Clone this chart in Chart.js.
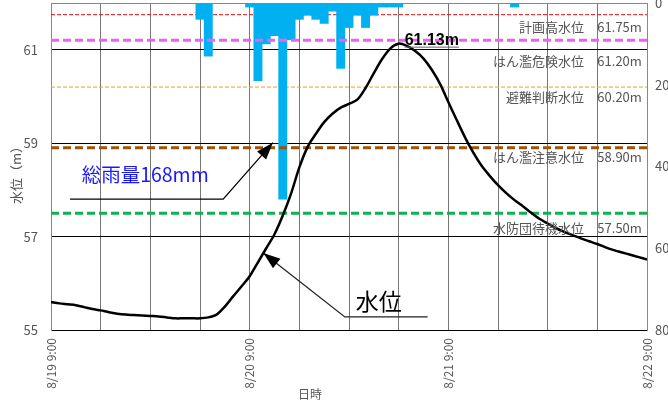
<!DOCTYPE html>
<html>
<head>
<meta charset="utf-8">
<script src="https://cdn.jsdelivr.net/npm/chart.js@4"></script>
<style>
  html, body { margin: 0; padding: 0; background: #fff; }
  #wrap { width: 668px; height: 401px; }
</style>
</head>
<body>
<div id="wrap"><canvas id="chart"></canvas></div>
<script>
// Hours since 8/19 9:00 (0 .. 72)
const dayLabels = ['8/19 9:00', '8/20 9:00', '8/21 9:00', '8/22 9:00'];

// Hourly rain (mm)
const rain = [
  0, 0, 0, 0, 0, 0, 0, 0, 0, 0, 0, 0,
  0, 0, 0, 0, 0, 0, 4, 13, 0, 0, 0, 0,
  1, 19, 10, 8, 48, 9, 4, 3, 4, 5, 2, 16,
  6, 3, 6, 3, 1, 1, 1, 0, 0, 0, 0, 0,
  0, 0, 0, 0, 0, 0, 0, 0, 1, 0, 0, 0,
  0, 0, 0, 0, 0, 0, 0, 0, 0, 0, 0, 0,
  0
];

// Hourly water level (m)
const waterLevel = [
  55.60, 55.57, 55.55, 55.53, 55.49, 55.45, 55.42, 55.38, 55.35, 55.33, 55.32, 55.31,
  55.30, 55.29, 55.27, 55.25, 55.25, 55.25, 55.25, 55.27, 55.33, 55.50, 55.72, 55.93,
  56.15, 56.45, 56.75, 57.05, 57.45, 57.92, 58.48, 58.92, 59.20, 59.45, 59.63, 59.76,
  59.84, 59.93, 60.18, 60.50, 60.80, 61.03, 61.13, 61.08, 60.97, 60.81, 60.57, 60.27,
  59.88, 59.50, 59.13, 58.80, 58.52, 58.30, 58.10, 57.93, 57.78, 57.65, 57.51, 57.38,
  57.28, 57.18, 57.10, 57.03, 56.96, 56.90, 56.84, 56.77, 56.71, 56.66, 56.61, 56.56,
  56.51
];

// Reference water levels
const levelNames = ['計画高水位', 'はん濫危険水位', '避難判断水位', 'はん濫注意水位', '水防団待機水位'];
const levelValues = [61.75, 61.20, 60.20, 58.90, 57.50];

const levelTicks = [55, 57, 59, 61, 62];
const rainTicks = [0, 20, 40, 60, 80];
const totalRain = '総雨量168mm';

// styles for each reference line
const levelStyles = [
  { color: '#e01010', width: 1, dash: [4, 2], order: 3 },
  { color: '#f060f0', width: 3, dash: [8, 4], order: 1 },
  { color: '#f0a020', width: 1, dash: [4, 2], order: 3 },
  { color: '#a0520a', width: 3, dash: [8, 4], order: 1 },
  { color: '#10b050', width: 3, dash: [8, 4], order: 1 }
];
// label rows (in metres) for the reference line names
const levelLabelAt = [61.49, 60.76, 59.99, 58.70, 57.19];

Chart.defaults.font.family = '"Noto Sans CJK JP", sans-serif';
Chart.defaults.color = '#555';

const hours = waterLevel.map((v, i) => i);

const levelSets = levelValues.map((v, i) => ({
  type: 'line',
  data: [{ x: 0, y: v }, { x: 72, y: v }],
  yAxisID: 'y',
  borderColor: levelStyles[i].color,
  borderWidth: levelStyles[i].width,
  borderDash: levelStyles[i].dash,
  pointRadius: 0,
  order: levelStyles[i].order
}));

function arrow(ctx, pts) {
  ctx.beginPath();
  ctx.moveTo(pts[0][0], pts[0][1]);
  for (let i = 1; i < pts.length; i++) ctx.lineTo(pts[i][0], pts[i][1]);
  ctx.stroke();
  const [ax, ay] = pts[pts.length - 2];
  const [bx, by] = pts[pts.length - 1];
  const a = Math.atan2(by - ay, bx - ax);
  const len = 17, half = 6;
  ctx.beginPath();
  ctx.moveTo(bx, by);
  ctx.lineTo(bx - len * Math.cos(a) + half * Math.sin(a), by - len * Math.sin(a) - half * Math.cos(a));
  ctx.lineTo(bx - len * Math.cos(a) - half * Math.sin(a), by - len * Math.sin(a) + half * Math.cos(a));
  ctx.closePath();
  ctx.fill();
}

const notes = {
  id: 'notes',
  afterDatasetsDraw(chart) {
    const { ctx, scales: { x, y } } = chart;
    const px = h => x.getPixelForValue(h);
    const py = v => y.getPixelForValue(v);
    ctx.save();

    // reference level labels
    ctx.fillStyle = '#555';
    ctx.textBaseline = 'middle';
    ctx.font = '13px "Noto Sans CJK JP"';
    levelNames.forEach((name, i) => {
      ctx.textAlign = 'right';
      ctx.fillText(name, px(64.4), py(levelLabelAt[i]));
      ctx.textAlign = 'left';
      ctx.fillText(levelValues[i].toFixed(2) + 'm', px(66), py(levelLabelAt[i]));
    });

    // peak value
    const peak = Math.max(...waterLevel);
    const peakAt = waterLevel.indexOf(peak);
    const peakText = peak.toFixed(2) + 'm';
    ctx.font = 'bold 16px "Liberation Sans"';
    ctx.textAlign = 'left';
    ctx.textBaseline = 'alphabetic';
    ctx.fillStyle = '#000';
    const tx = px(peakAt) + 6, ty = py(peak) + 1;
    ctx.fillText(peakText, tx, ty);
    const tw = ctx.measureText(peakText).width;
    ctx.strokeStyle = '#666';
    ctx.lineWidth = 1;
    ctx.beginPath();
    ctx.moveTo(tx, ty + 2.5);
    ctx.lineTo(tx + tw, ty + 2.5);
    ctx.stroke();

    // total rain callout
    ctx.strokeStyle = '#000';
    ctx.fillStyle = '#000';
    ctx.lineWidth = 1.3;
    arrow(ctx, [[px(2.3), py(57.8)], [px(20.8), py(57.8)], [px(26.8), py(59.01)]]);
    ctx.font = '19.5px "Noto Sans CJK JP"';
    ctx.fillStyle = '#1818ff';
    ctx.textBaseline = 'middle';
    ctx.fillText(totalRain, px(3.7), py(58.33));

    // water level callout
    ctx.fillStyle = '#000';
    ctx.strokeStyle = '#222';
    arrow(ctx, [[px(45.5), py(55.28)], [px(35.5), py(55.28)], [px(25.65), py(56.65)]]);
    ctx.font = '23px "Noto Sans CJK JP"';
    ctx.textAlign = 'center';
    ctx.fillText('水位', px(39.6), py(55.62));

    // axis titles
    ctx.fillStyle = '#555';
    ctx.font = '12px "Noto Sans CJK JP"';
    ctx.fillText('日時', 310, 394);
    ctx.save();
    ctx.translate(16, 172);
    ctx.rotate(-Math.PI / 2);
    ctx.font = '13px "Noto Sans CJK JP"';
    ctx.fillText('水位（m）', 0, 0);
    ctx.restore();

    ctx.restore();
  }
};

// keep the plot box fixed: no extra room for the end labels
function fixSize(prop, size) {
  return s => {
    s[prop] = size;
    s.paddingTop = 0;
    s.paddingBottom = 0;
    s.paddingLeft = 0;
    s.paddingRight = 0;
  };
}

new Chart(document.getElementById('chart'), {
  type: 'bar',
  data: {
    datasets: [
      {
        type: 'line',
        data: hours.map(h => ({ x: h, y: waterLevel[h] })),
        yAxisID: 'y',
        borderColor: '#000',
        borderWidth: 2.5,
        pointRadius: 0,
        tension: 0.3,
        order: 0
      },
      ...levelSets,
      {
        type: 'bar',
        data: hours.map(h => ({ x: h, y: rain[h] })),
        yAxisID: 'y2',
        backgroundColor: '#00b0f0',
        borderWidth: 0,
        barPercentage: 1,
        categoryPercentage: 1,
        order: 2
      }
    ]
  },
  options: {
    responsive: true,
    maintainAspectRatio: false,
    animation: false,
    layout: { padding: { top: 3, left: 0, right: 0, bottom: 0 } },
    plugins: { legend: { display: false }, tooltip: { enabled: false } },
    scales: {
      x: {
        type: 'linear',
        min: 0,
        max: 72,
        offset: false,
        afterFit: fixSize('height', 71),
        afterBuildTicks: s => {
          s.ticks = [];
          for (let h = 0; h <= 72; h += 6) s.ticks.push({ value: h });
        },
        grid: { color: '#777', lineWidth: 1, drawTicks: false, offset: false },
        border: { color: '#000', width: 1 },
        ticks: {
          autoSkip: false,
          minRotation: 90,
          maxRotation: 90,
          padding: 8,
          font: { size: 12 },
          callback: v => (v % 24 === 0 ? dayLabels[v / 24] : '')
        }
      },
      y: {
        position: 'left',
        min: 55,
        max: 62,
        afterFit: fixSize('width', 51),
        afterBuildTicks: s => { s.ticks = levelTicks.map(v => ({ value: v })); },
        grid: {
          drawTicks: false,
          color: c => (c.tick && c.tick.value === 62 ? '#888' : '#000')
        },
        border: { color: '#888' },
        ticks: {
          padding: 13,
          font: { size: 13 },
          callback: v => (v === 62 ? '' : v)
        }
      },
      y2: {
        position: 'right',
        min: 0,
        max: 80,
        reverse: true,
        afterFit: fixSize('width', 21),
        afterBuildTicks: s => { s.ticks = rainTicks.map(v => ({ value: v })); },
        grid: { display: false, drawTicks: false },
        border: { color: '#888' },
        ticks: { padding: 8, font: { size: 13 } }
      }
    }
  },
  plugins: [notes]
});
</script>
</body>
</html>
